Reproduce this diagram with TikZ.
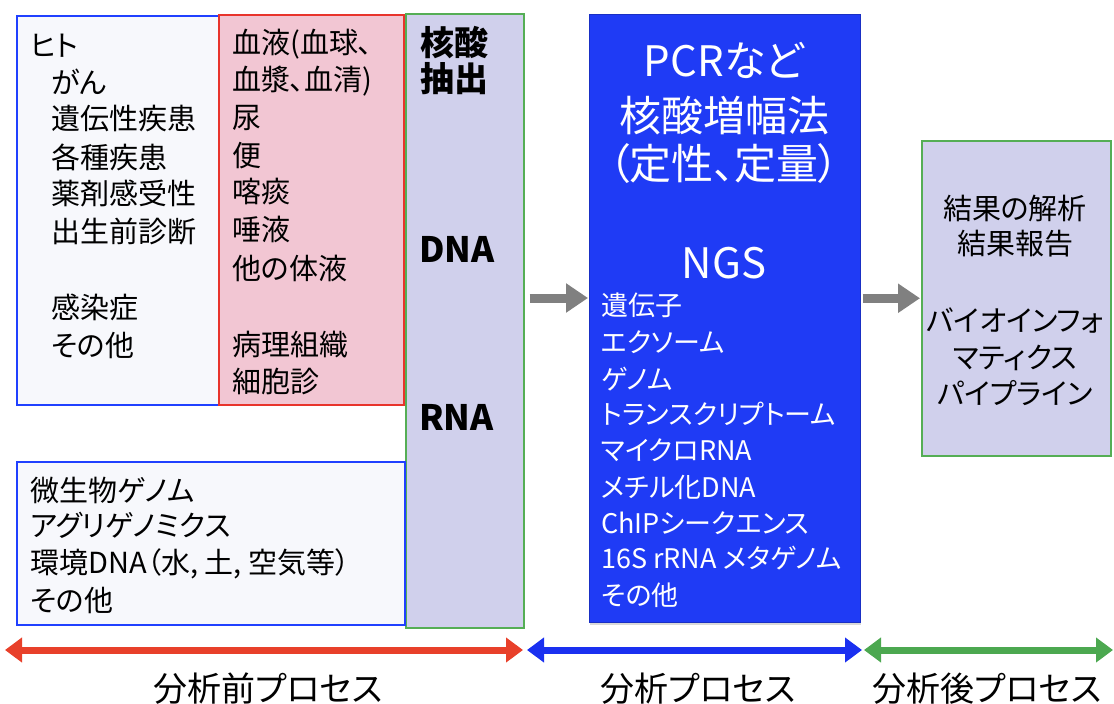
\documentclass[tikz,border=0pt]{standalone}
\usepackage{fontspec}
\setmainfont{Noto Sans CJK JP}[RawFeature=+palt]
\usetikzlibrary{arrows.meta,shadows}
\definecolor{lfill}{HTML}{F7F8FC}
\definecolor{lblue}{HTML}{2040FF}
\definecolor{pfill}{HTML}{F2C6D3}
\definecolor{pred}{HTML}{E8342C}
\definecolor{lav}{HTML}{D0D0EC}
\definecolor{gborder}{HTML}{55AE55}
\definecolor{bbox}{HTML}{1F3BF5}
\definecolor{garrow}{HTML}{808080}
\definecolor{rarrow}{HTML}{E8402A}
\definecolor{barrow}{HTML}{1A30F0}
\definecolor{grarrow}{HTML}{4CA850}
\newcommand{\fsz}[1]{\fontsize{#1}{#1}\selectfont}
\tikzset{
  box/.style={anchor=north west, inner sep=0pt, line width=1.5pt},
  tx/.style={anchor=base west, inner sep=0pt, font=\fsz{29}},
  txc/.style={anchor=base, inner sep=0pt, font=\fsz{29}},
  bx/.style={anchor=base west, inner sep=0pt, font=\bfseries\fsz{34}},
  wl/.style={anchor=base west, inner sep=0pt, font=\fsz{27}, text=white},
  wc/.style={anchor=base, inner sep=0pt, font=\fsz{42}, text=white},
  lab/.style={anchor=base, inner sep=0pt, font=\fsz{34}},
  grayarrow/.style={draw=garrow, line width=9pt, -{Triangle[length=22pt,width=28pt]}},
  dbl/.style={line width=7pt, {Triangle[length=17pt,width=24pt]}-{Triangle[length=17pt,width=24pt]}}
}
\begin{document}
\begin{tikzpicture}[x=1pt,y=-1pt]
\useasboundingbox (0,0) rectangle (1114,704);
% boxes
\node[box, draw=lblue, fill=lfill, minimum width=202pt, minimum height=389pt] (hum) at (16,15) {};
\node[box, draw=pred, fill=pfill, minimum width=185pt, minimum height=390pt] (spec) at (218,14) {};
\node[box, draw=gborder, fill=lav, minimum width=118pt, minimum height=614pt] (ext) at (405,13) {};
\node[box, draw=lblue, fill=lfill, minimum width=388pt, minimum height=163pt] (mic) at (16,461) {};
\node[box, draw=bbox!80!black, line width=0.5pt, fill=bbox, minimum width=271pt, minimum height=608pt,
  drop shadow={opacity=0.3, shadow xshift=1pt, shadow yshift=-3pt}] (amp) at (589,14) {};
\node[box, draw=gborder, fill=lav, minimum width=189pt, minimum height=315pt] (res) at (921,140) {};
% left texts
\node[tx] (h0) at (30,56) {ヒト};
\node[tx] (h1) at (51,93) {がん};
\node[tx] (h2) at (51,129) {遺伝性疾患};
\node[tx] (h3) at (51,168) {各種疾患};
\node[tx] (h4) at (51,204) {薬剤感受性};
\node[tx] (h5) at (51,242) {出生前診断};
\node[tx] (h6) at (51,318) {感染症};
\node[tx] (h7) at (51,356) {その他};
% specimen
\node[tx] (s1) at (232,53) {血液(血球、};
\node[tx] (s2) at (232,90) {血漿、血清)};
\node[tx] (s3) at (232,128) {尿};
\node[tx] (s4) at (232,166) {便};
\node[tx] (s5) at (232,202) {喀痰};
\node[tx] (s6) at (232,240) {唾液};
\node[tx] (s7) at (232,279) {他の体液};
\node[tx] (s8) at (232,355) {病理組織};
\node[tx] (s9) at (232,392) {細胞診};
% extraction
\node[bx] (e1) at (420,55) {核酸};
\node[bx] (e2) at (420,91) {抽出};
\node[bx, font=\bfseries\fsz{35}] (e3) at (419,262) {DNA};
\node[bx, font=\bfseries\fsz{35}] (e4) at (419,430) {RNA};
% microbes
\node[tx] (m1) at (30,501) {微生物ゲノム};
\node[tx] (m2) at (30,536) {アグリゲノミクス};
\node[tx] (m3) at (30,573) {環境DNA（水, 土, 空気等）};
\node[tx] (m4) at (30,611) {その他};
% amplification
\node[wc] (a1) at (724,76) {PCRなど};
\node[wc] (a2) at (724,131) {核酸増幅法};
\node[wc] (a3) at (724,179) {（定性、定量）};
\node[wc] (a4) at (724,278) {NGS};
\node[wl] (n1) at (601,315) {遺伝子};
\node[wl] (n2) at (601,352) {エクソーム};
\node[wl] (n3) at (601,389) {ゲノム};
\node[wl] (n4) at (601,424) {トランスクリプトーム};
\node[wl] (n5) at (601,460) {マイクロRNA};
\node[wl] (n6) at (601,497) {メチル化DNA};
\node[wl] (n7) at (601,533) {ChIPシークエンス};
\node[wl] (n8) at (601,568) {16S rRNA メタゲノム};
\node[wl] (n9) at (601,605) {その他};
% results
\node[txc] (r1) at (1015,219) {結果の解析};
\node[txc] (r2) at (1015,254) {結果報告};
\node[txc] (r3) at (1015,331) {バイオインフォ};
\node[txc] (r4) at (1015,368) {マティクス};
\node[txc] (r5) at (1015,404) {パイプライン};
% gray arrows
\coordinate (ay) at (0,298);
\draw[grayarrow] ([xshift=5pt]ext.east|-ay) -- ([xshift=-1pt]amp.west|-ay);
\draw[grayarrow] ([xshift=2pt]amp.east|-res.west) -- ([xshift=-1pt]res.west);
% process arrows
\coordinate (p0) at (5,650);
\coordinate (p1) at (523,650);
\coordinate (p2) at (527,650);
\coordinate (p3) at (862,650);
\coordinate (p4) at (864,650);
\coordinate (p5) at (1113,650);
\draw[dbl, draw=rarrow, fill=rarrow] (p0) -- (p1);
\draw[dbl, draw=barrow, fill=barrow] (p2) -- (p3);
\draw[dbl, draw=grarrow, fill=grarrow] (p4) -- (p5);
\node[lab] (l1) at (268,701) {分析前プロセス};
\node[lab] (l2) at (698,701) {分析プロセス};
\node[lab] (l3) at (987,701) {分析後プロセス};
\end{tikzpicture}
\end{document}
